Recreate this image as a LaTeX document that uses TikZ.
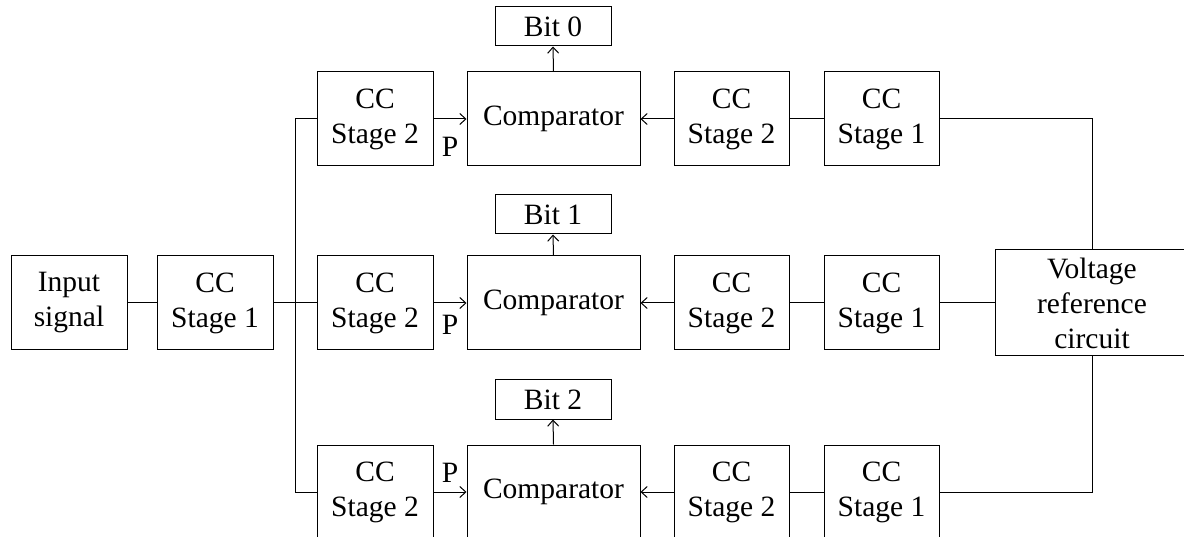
\documentclass[tikz,border=0pt]{standalone}
\usepackage{fontspec}
\setmainfont{Liberation Serif}
\usetikzlibrary{arrows.meta}
\begin{document}
\begin{tikzpicture}[x=1pt,y=-1pt,
  box/.style={draw, line width=1pt, inner sep=0pt, align=center, font=\fontsize{29.5}{35}\selectfont},
  wire/.style={line width=1pt},
  arr/.style={line width=1pt, -{Straight Barb[length=6pt,width=11pt]}},
  lab/.style={inner sep=0pt, font=\fontsize{29.5}{35}\selectfont}]
\useasboundingbox (0,0) rectangle (1184,537);
\clip (0,0) rectangle (1184,537);
% left part
\node[box, minimum width=116pt, minimum height=94pt] (in) at (69,303) {Input\\signal};
\node[box, minimum width=116pt, minimum height=94pt] (s1) at (215,303) {CC\\Stage 1};
\draw[wire] (in) -- (s1);
% voltage reference
\node[box, minimum width=194pt, minimum height=106pt] (vr) at (1092,303) {Voltage\\reference\\circuit};
% rows
\foreach \r/\y/\by/\bit/\py in {t/119/26.5/0/147, m/303/214.5/1/325, b/492/399.5/2/473}{
  \node[box, minimum width=116pt, minimum height=94pt] (a\r) at (375,\y) {CC\\Stage 2};
  \node[box, minimum width=173pt, minimum height=94pt] (cmp\r) at (553.5,\y) {Comparator};
  \node[box, minimum width=115pt, minimum height=94pt] (b\r) at (731.5,\y) {CC\\Stage 2};
  \node[box, minimum width=115pt, minimum height=94pt] (c\r) at (881.5,\y) {CC\\Stage 1};
  \node[box, minimum width=116pt, minimum height=39pt] (bit\r) at (553,\by) {Bit \bit};
  \node[lab] (p\r) at (450,\py) {P};
  \coordinate (bus\r) at (295,\y);
  \draw[arr] (a\r.east) -- (cmp\r.west);
  \draw[arr] (b\r.west) -- (cmp\r.east);
  \draw[wire] (c\r.west) -- (b\r.east);
  \draw[arr] (cmp\r.north) -- (bit\r.south);
  \draw[wire] (bus\r) -- (a\r.west);
}
\draw[wire] (s1.east) -- (busm);
\draw[wire] (bust) -- (busb);
\draw[wire] (ct.east) -| (vr.north);
\draw[wire] (cm.east) -- (vr.west);
\draw[wire] (cb.east) -| (vr.south);
\end{tikzpicture}
\end{document}
